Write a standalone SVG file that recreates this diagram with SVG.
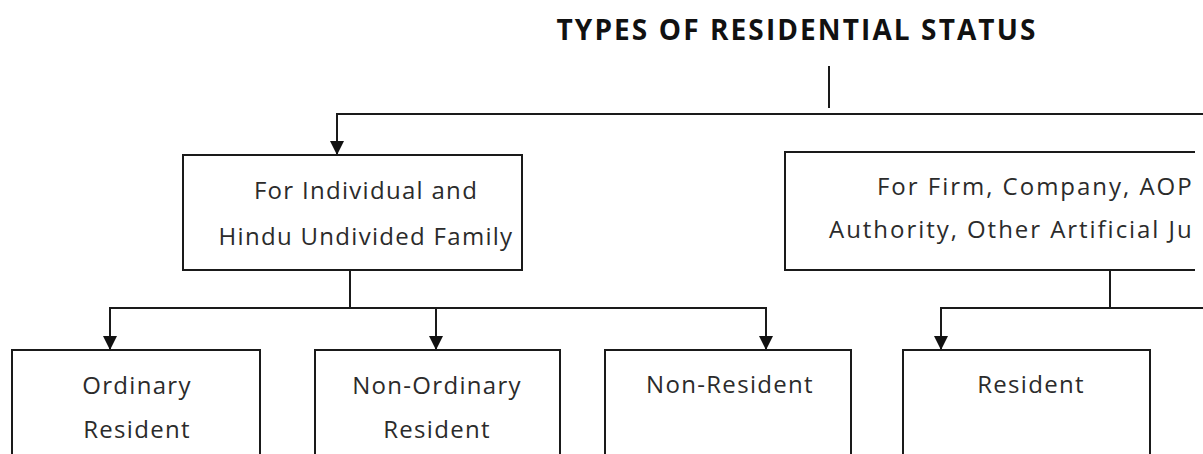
<svg xmlns="http://www.w3.org/2000/svg" width="1203" height="454" viewBox="0 0 1203 454">
<style>
.box{fill:#fff;stroke:#1a1a1a;stroke-width:2}
.ln{fill:none;stroke:#1a1a1a;stroke-width:2}
.t{font-family:"Open Sans","Liberation Sans",sans-serif;font-size:24px;letter-spacing:1.3px;fill:#2b2b2b;text-anchor:middle}
.title{font-family:"Open Sans","Liberation Sans",sans-serif;font-size:28px;letter-spacing:2.1px;font-weight:bold;fill:#111;text-anchor:middle}
</style>
<defs>
<marker id="arr" viewBox="0 0 10 10" refX="10" refY="5" markerWidth="14" markerHeight="14" markerUnits="userSpaceOnUse" orient="auto">
<path d="M0,0 L10,5 L0,10 Z" fill="#111"/>
</marker>
<clipPath id="clip"><rect x="0" y="0" width="1195" height="454"/></clipPath>
</defs>
<rect width="1203" height="454" fill="#fff"/>
<g id="title"><text class="title" x="797" y="40">TYPES OF RESIDENTIAL STATUS</text></g>
<g id="connectors">
<line class="ln" x1="829" y1="66" x2="829" y2="108"/>
<polyline class="ln" points="1203,114 337,114 337,155" marker-end="url(#arr)"/>
<line class="ln" x1="350" y1="270" x2="350" y2="308"/>
<polyline class="ln" points="110,308 766,308 766,350" marker-end="url(#arr)"/>
<line class="ln" x1="110" y1="307" x2="110" y2="350" marker-end="url(#arr)"/>
<line class="ln" x1="436" y1="308" x2="436" y2="350" marker-end="url(#arr)"/>
<line class="ln" x1="1110" y1="270" x2="1110" y2="308"/>
<polyline class="ln" points="1203,308 941,308 941,350" marker-end="url(#arr)"/>
</g>
<g id="node-individual">
<rect class="box" x="183" y="155" width="339" height="115"/>
<text class="t" x="366" y="199">For Individual and</text>
<text class="t" x="366" y="245">Hindu Undivided Family</text>
</g>
<g id="node-firm" clip-path="url(#clip)">
<rect class="box" x="785" y="152" width="440" height="118"/>
<text class="t" x="877" y="195" style="text-anchor:start" textLength="316" lengthAdjust="spacing">For Firm, Company, AOP</text>
<text class="t" x="829" y="238" style="text-anchor:start" textLength="364" lengthAdjust="spacing">Authority, Other Artificial Ju</text>
</g>
<g id="node-ordinary">
<rect class="box" x="12" y="350" width="248" height="120"/>
<text class="t" x="137" y="394">Ordinary</text>
<text class="t" x="137" y="438">Resident</text>
</g>
<g id="node-nonordinary">
<rect class="box" x="315" y="350" width="245" height="120"/>
<text class="t" x="437" y="394">Non-Ordinary</text>
<text class="t" x="437" y="438">Resident</text>
</g>
<g id="node-nonresident">
<rect class="box" x="605" y="350" width="246" height="120"/>
<text class="t" x="730" y="393">Non-Resident</text>
</g>
<g id="node-resident">
<rect class="box" x="903" y="350" width="247" height="120"/>
<text class="t" x="1031" y="393">Resident</text>
</g>
</svg>
